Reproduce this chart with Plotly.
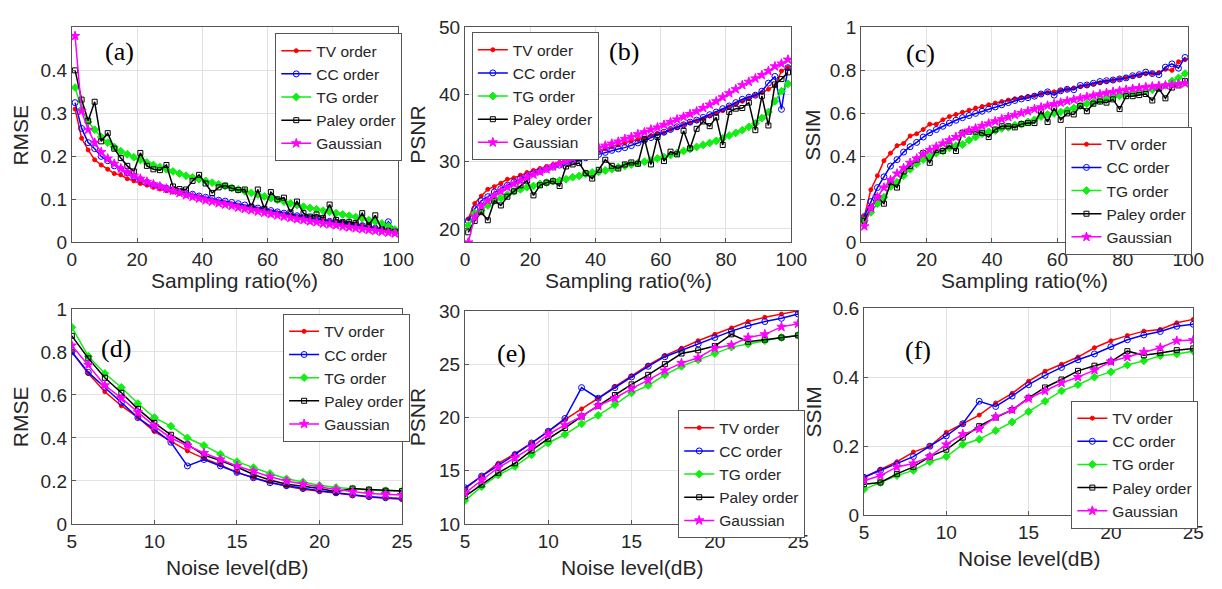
import plotly.graph_objects as go

W, H = 1222, 589

# ---------------- data ----------------
x_ratio = [1, 3, 5, 7, 9, 11, 13, 15, 17, 19, 21, 23, 25, 27, 29, 31, 33, 35, 37, 39,
           41, 43, 45, 47, 49, 51, 53, 55, 57, 59, 61, 63, 65, 67, 69, 71, 73, 75, 77, 79,
           81, 83, 85, 87, 89, 91, 93, 95, 97, 99]
x_noise = [5, 6, 7, 8, 9, 10, 11, 12, 13, 14, 15, 16, 17, 18, 19, 20, 21, 22, 23, 24, 25]

series_names = ["TV order", "CC order", "TG order", "Paley order", "Gaussian"]

# (a) RMSE vs sampling ratio
rmse_a_tv = [0.310, 0.242, 0.215, 0.192, 0.180, 0.170, 0.160, 0.157, 0.148, 0.143,
             0.137, 0.133, 0.128, 0.124, 0.120, 0.117, 0.114, 0.110, 0.106, 0.103,
             0.100, 0.097, 0.094, 0.091, 0.088, 0.085, 0.082, 0.079, 0.076, 0.073,
             0.070, 0.068, 0.066, 0.063, 0.061, 0.058, 0.056, 0.054, 0.052, 0.050,
             0.048, 0.046, 0.044, 0.042, 0.040, 0.037, 0.034, 0.031, 0.028, 0.025]
rmse_a_cc = [0.325, 0.265, 0.232, 0.218, 0.200, 0.190, 0.178, 0.170, 0.162, 0.152,
             0.146, 0.140, 0.134, 0.130, 0.126, 0.122, 0.118, 0.115, 0.112, 0.108,
             0.105, 0.102, 0.098, 0.096, 0.093, 0.090, 0.087, 0.083, 0.080, 0.077,
             0.074, 0.071, 0.068, 0.065, 0.062, 0.059, 0.057, 0.055, 0.052, 0.049,
             0.047, 0.045, 0.043, 0.041, 0.039, 0.036, 0.033, 0.030, 0.048, 0.028]
rmse_a_tg = [0.360, 0.310, 0.280, 0.262, 0.245, 0.232, 0.222, 0.212, 0.205, 0.198,
             0.192, 0.186, 0.180, 0.175, 0.170, 0.165, 0.160, 0.155, 0.151, 0.147,
             0.143, 0.139, 0.135, 0.131, 0.127, 0.123, 0.119, 0.115, 0.111, 0.107,
             0.103, 0.099, 0.095, 0.091, 0.087, 0.083, 0.080, 0.077, 0.074, 0.071,
             0.068, 0.065, 0.062, 0.059, 0.056, 0.052, 0.048, 0.044, 0.038, 0.030]
rmse_a_paley = [0.400, 0.332, 0.283, 0.327, 0.235, 0.254, 0.218, 0.196, 0.178, 0.165,
                0.208, 0.178, 0.170, 0.168, 0.180, 0.130, 0.124, 0.123, 0.143, 0.157,
                0.137, 0.115, 0.128, 0.132, 0.126, 0.122, 0.123, 0.082, 0.123, 0.078,
                0.117, 0.100, 0.104, 0.070, 0.095, 0.068, 0.060, 0.065, 0.057, 0.088,
                0.052, 0.047, 0.047, 0.045, 0.068, 0.040, 0.063, 0.030, 0.027, 0.025]
rmse_a_gauss = [0.480, 0.305, 0.262, 0.232, 0.210, 0.195, 0.183, 0.172, 0.163, 0.155,
                0.148, 0.141, 0.135, 0.130, 0.125, 0.120, 0.115, 0.110, 0.106, 0.102,
                0.098, 0.095, 0.091, 0.088, 0.085, 0.081, 0.078, 0.075, 0.072, 0.069,
                0.066, 0.063, 0.060, 0.057, 0.054, 0.052, 0.049, 0.047, 0.044, 0.042,
                0.040, 0.037, 0.035, 0.033, 0.031, 0.029, 0.027, 0.025, 0.023, 0.021]

# (b) PSNR vs sampling ratio
psnr_b_tv = [21.5, 23.8, 24.9, 25.9, 26.3, 26.8, 27.4, 27.6, 28.0, 28.4,
             28.7, 29.0, 29.3, 29.6, 29.9, 30.1, 30.4, 30.7, 31.0, 31.3,
             31.6, 31.9, 32.2, 32.5, 32.8, 33.1, 33.3, 33.5, 33.9, 34.2,
             34.3, 34.8, 35.1, 35.5, 35.8, 36.1, 36.4, 36.8, 37.2, 37.6,
             38.2, 38.6, 39.0, 39.5, 39.9, 40.3, 40.8, 41.3, 43.5, 44.0]
psnr_b_cc = [21.2, 23.0, 24.2, 24.8, 25.5, 26.0, 26.5, 27.0, 27.5, 27.9,
             28.3, 28.6, 28.9, 29.2, 29.5, 29.8, 30.1, 30.4, 30.6, 30.9,
             31.1, 31.4, 31.7, 31.9, 32.1, 32.4, 32.8, 33.2, 33.6, 34.0,
             34.4, 34.8, 35.2, 35.5, 35.9, 36.2, 36.6, 37.0, 37.4, 37.9,
             38.3, 38.8, 39.3, 39.6, 39.9, 40.5, 41.7, 42.7, 37.8, 44.0]
psnr_b_tg = [20.5, 22.3, 22.8, 23.5, 24.2, 24.6, 25.1, 25.6, 25.9, 26.2,
             26.4, 26.7, 26.9, 27.1, 27.2, 27.4, 27.7, 27.9, 28.2, 28.4,
             28.5, 28.7, 28.9, 29.2, 29.4, 29.6, 29.8, 30.0, 30.2, 30.5,
             30.7, 31.0, 31.3, 31.6, 31.9, 32.2, 32.5, 32.8, 33.1, 33.5,
             33.9, 34.3, 34.7, 35.2, 35.7, 36.5, 37.4, 39.0, 40.5, 41.6]
psnr_b_paley = [19.5, 21.2, 22.5, 21.3, 24.2, 23.5, 24.8, 25.6, 26.5, 27.2,
                25.0, 26.5, 26.9, 27.1, 26.4, 29.3, 29.6, 29.8, 28.3, 27.5,
                28.8, 30.3, 29.4, 29.0, 29.6, 29.9, 29.7, 33.4, 29.6, 33.7,
                30.1, 31.5, 31.1, 34.6, 32.0, 34.9, 36.0, 35.3, 36.6, 32.5,
                37.4, 37.9, 38.0, 38.8, 34.7, 39.8, 35.4, 41.5, 42.3, 43.3]
psnr_b_gauss = [18.0, 21.8, 23.4, 24.2, 25.0, 25.6, 26.2, 26.7, 27.2, 27.7,
                28.1, 28.5, 28.9, 29.3, 29.7, 30.1, 30.5, 30.9, 31.3, 31.7,
                32.1, 32.4, 32.7, 33.0, 33.4, 33.7, 34.1, 34.4, 34.8, 35.1,
                35.5, 35.9, 36.3, 36.7, 37.1, 37.5, 38.0, 38.5, 39.0, 39.6,
                40.2, 40.8, 41.4, 41.9, 42.4, 42.9, 43.5, 44.2, 44.6, 45.2]

# (c) SSIM vs sampling ratio
ssim_c_tv = [0.120, 0.245, 0.310, 0.380, 0.415, 0.450, 0.460, 0.495, 0.505, 0.525,
             0.550, 0.550, 0.570, 0.585, 0.595, 0.605, 0.615, 0.625, 0.632, 0.640,
             0.648, 0.655, 0.662, 0.668, 0.673, 0.678, 0.683, 0.690, 0.697, 0.700,
             0.706, 0.712, 0.718, 0.724, 0.730, 0.736, 0.742, 0.748, 0.754, 0.760,
             0.766, 0.772, 0.778, 0.784, 0.786, 0.790, 0.805, 0.800, 0.840, 0.850]
ssim_c_cc = [0.120, 0.190, 0.255, 0.305, 0.355, 0.385, 0.420, 0.445, 0.465, 0.490,
             0.510, 0.525, 0.540, 0.555, 0.568, 0.580, 0.590, 0.600, 0.610, 0.620,
             0.630, 0.640, 0.650, 0.660, 0.667, 0.673, 0.680, 0.690, 0.700, 0.685,
             0.705, 0.712, 0.710, 0.730, 0.732, 0.740, 0.748, 0.752, 0.755, 0.760,
             0.765, 0.775, 0.780, 0.792, 0.785, 0.780, 0.815, 0.830, 0.810, 0.860]
ssim_c_tg = [0.100, 0.140, 0.180, 0.210, 0.260, 0.280, 0.310, 0.340, 0.365, 0.385,
             0.400, 0.415, 0.425, 0.440, 0.450, 0.455, 0.475, 0.490, 0.505, 0.515,
             0.520, 0.530, 0.535, 0.545, 0.550, 0.560, 0.570, 0.585, 0.595, 0.600,
             0.607, 0.615, 0.625, 0.635, 0.645, 0.652, 0.660, 0.668, 0.675, 0.682,
             0.690, 0.695, 0.700, 0.705, 0.710, 0.720, 0.730, 0.750, 0.765, 0.785]
ssim_c_paley = [0.100, 0.160, 0.210, 0.180, 0.280, 0.255, 0.330, 0.355, 0.385, 0.415,
                0.370, 0.430, 0.425, 0.450, 0.425, 0.510, 0.515, 0.515, 0.510, 0.490,
                0.525, 0.540, 0.540, 0.535, 0.550, 0.555, 0.555, 0.610, 0.560, 0.625,
                0.570, 0.600, 0.595, 0.635, 0.610, 0.645, 0.655, 0.650, 0.665, 0.620,
                0.680, 0.680, 0.685, 0.690, 0.660, 0.715, 0.670, 0.720, 0.730, 0.750]
ssim_c_gauss = [0.075, 0.160, 0.210, 0.255, 0.290, 0.320, 0.345, 0.370, 0.390, 0.410,
                0.430, 0.445, 0.460, 0.475, 0.490, 0.505, 0.520, 0.530, 0.542, 0.553,
                0.563, 0.573, 0.583, 0.593, 0.602, 0.610, 0.620, 0.628, 0.636, 0.643,
                0.650, 0.657, 0.664, 0.670, 0.677, 0.683, 0.689, 0.695, 0.700, 0.705,
                0.710, 0.714, 0.718, 0.722, 0.725, 0.728, 0.730, 0.733, 0.736, 0.740]

# (d) RMSE vs noise level
rmse_d_tv = [0.800, 0.700, 0.615, 0.550, 0.495, 0.430, 0.385, 0.340, 0.305, 0.275, 0.240,
             0.215, 0.195, 0.175, 0.162, 0.152, 0.142, 0.133, 0.125, 0.120, 0.115]
rmse_d_cc = [0.800, 0.705, 0.635, 0.565, 0.495, 0.440, 0.380, 0.270, 0.300, 0.270, 0.240,
             0.215, 0.192, 0.178, 0.165, 0.155, 0.145, 0.135, 0.127, 0.122, 0.118]
rmse_d_tg = [0.915, 0.780, 0.700, 0.635, 0.560, 0.495, 0.455, 0.400, 0.365, 0.325, 0.290,
             0.262, 0.235, 0.210, 0.195, 0.180, 0.170, 0.163, 0.158, 0.155, 0.153]
rmse_d_paley = [0.875, 0.770, 0.680, 0.610, 0.535, 0.470, 0.415, 0.370, 0.320, 0.295, 0.265,
                0.230, 0.205, 0.185, 0.175, 0.165, 0.150, 0.165, 0.160, 0.155, 0.153]
rmse_d_gauss = [0.830, 0.740, 0.645, 0.585, 0.520, 0.455, 0.400, 0.365, 0.330, 0.300, 0.270,
                0.245, 0.220, 0.200, 0.185, 0.172, 0.160, 0.150, 0.142, 0.138, 0.135]

# (e) PSNR vs noise level
psnr_e_tv = [13.3, 14.5, 15.7, 16.6, 17.6, 18.7, 19.8, 20.8, 21.8, 22.9, 23.9,
             24.9, 25.8, 26.5, 27.2, 27.8, 28.4, 29.0, 29.4, 29.7, 30.0]
psnr_e_cc = [13.4, 14.5, 15.5, 16.5, 17.6, 18.7, 19.9, 22.8, 21.8, 22.8, 23.8,
             24.8, 25.7, 26.3, 26.9, 27.5, 28.1, 28.6, 29.0, 29.3, 29.7]
psnr_e_tg = [12.2, 13.5, 14.6, 15.4, 16.5, 17.6, 18.4, 19.4, 20.2, 21.2, 22.3,
             23.0, 24.0, 24.8, 25.4, 26.0, 26.6, 26.9, 27.2, 27.5, 27.7]
psnr_e_paley = [12.6, 13.7, 14.8, 15.7, 16.9, 18.0, 19.0, 20.1, 21.1, 22.1, 23.1,
                24.0, 25.0, 26.0, 26.3, 26.7, 27.8, 27.1, 27.3, 27.5, 27.7]
psnr_e_gauss = [12.9, 14.1, 15.3, 16.2, 17.2, 18.4, 19.3, 20.1, 21.1, 21.8, 22.7,
                23.5, 24.4, 25.1, 25.6, 26.5, 26.8, 27.5, 27.8, 28.5, 28.8]

# (f) SSIM vs noise level
ssim_f_tv = [0.110, 0.133, 0.155, 0.183, 0.200, 0.240, 0.265, 0.290, 0.325, 0.353, 0.388,
             0.417, 0.437, 0.458, 0.485, 0.505, 0.520, 0.533, 0.538, 0.557, 0.567]
ssim_f_cc = [0.110, 0.130, 0.148, 0.170, 0.200, 0.230, 0.265, 0.330, 0.315, 0.345, 0.378,
             0.405, 0.428, 0.450, 0.467, 0.488, 0.508, 0.522, 0.532, 0.547, 0.553]
ssim_f_tg = [0.075, 0.095, 0.115, 0.130, 0.155, 0.170, 0.205, 0.220, 0.245, 0.270, 0.300,
             0.330, 0.360, 0.378, 0.400, 0.415, 0.435, 0.447, 0.462, 0.467, 0.475]
ssim_f_paley = [0.090, 0.095, 0.120, 0.140, 0.170, 0.190, 0.225, 0.258, 0.283, 0.305, 0.340,
                0.370, 0.393, 0.418, 0.433, 0.445, 0.475, 0.463, 0.470, 0.478, 0.483]
ssim_f_gauss = [0.100, 0.115, 0.140, 0.150, 0.170, 0.205, 0.235, 0.250, 0.285, 0.305, 0.338,
                0.360, 0.383, 0.400, 0.420, 0.445, 0.458, 0.473, 0.485, 0.505, 0.507]

# ---------------- styles ----------------
styles = [
    dict(color="#ff0000", symbol="circle", size=4),
    dict(color="#0000ff", symbol="circle-open", size=6),
    dict(color="#11ee11", symbol="diamond", size=6),
    dict(color="#000000", symbol="square-open", size=5),
    dict(color="#ff00ff", symbol="star", size=7),
]

panels = [
    dict(x=x_ratio, ys=[rmse_a_tv, rmse_a_cc, rmse_a_tg, rmse_a_paley, rmse_a_gauss],
         px=(68, 400), py=(18, 241), yr=[0, 0.5], yt=[0, 0.1, 0.2, 0.3, 0.4],
         xr=[0, 100], xt=[0, 20, 40, 60, 80, 100], ylab="RMSE", xlab="Sampling ratio(%)",
         tag="(a)", tagpos=(117, 43), leg=(275, 24), ytitle_x=16, xtitle_y=281),
    dict(x=x_ratio, ys=[psnr_b_tv, psnr_b_cc, psnr_b_tg, psnr_b_paley, psnr_b_gauss],
         px=(468, 800), py=(18, 241), yr=[18, 50], yt=[20, 30, 40, 50],
         xr=[0, 100], xt=[0, 20, 40, 60, 80, 100], ylab="PSNR", xlab="Sampling ratio(%)",
         tag="(b)", tagpos=(630, 43), leg=(475, 23), ytitle_x=420, xtitle_y=281),
    dict(x=x_ratio, ys=[ssim_c_tv, ssim_c_cc, ssim_c_tg, ssim_c_paley, ssim_c_gauss],
         px=(871, 1204), py=(18, 241), yr=[0, 1], yt=[0, 0.2, 0.4, 0.6, 0.8, 1],
         xr=[0, 100], xt=[0, 20, 40, 60, 80, 100], ylab="SSIM", xlab="Sampling ratio(%)",
         tag="(c)", tagpos=(932, 45), leg=(1079, 121), ytitle_x=822, xtitle_y=281),
    dict(x=x_noise, ys=[rmse_d_tv, rmse_d_cc, rmse_d_tg, rmse_d_paley, rmse_d_gauss],
         px=(68, 404), py=(310, 533), yr=[0, 1], yt=[0, 0.2, 0.4, 0.6, 0.8, 1],
         xr=[5, 25], xt=[5, 10, 15, 20, 25], ylab="RMSE", xlab="Noise level(dB)",
         tag="(d)", tagpos=(113, 351), leg=(283, 315), ytitle_x=16, xtitle_y=578),
    dict(x=x_noise, ys=[psnr_e_tv, psnr_e_cc, psnr_e_tg, psnr_e_paley, psnr_e_gauss],
         px=(468, 807), py=(312, 533), yr=[10, 30], yt=[10, 15, 20, 25, 30],
         xr=[5, 25], xt=[5, 10, 15, 20, 25], ylab="PSNR", xlab="Noise level(dB)",
         tag="(e)", tagpos=(515, 356), leg=(685, 415), ytitle_x=420, xtitle_y=578),
    dict(x=x_noise, ys=[ssim_f_tv, ssim_f_cc, ssim_f_tg, ssim_f_paley, ssim_f_gauss],
         px=(874, 1209), py=(309, 524), yr=[0, 0.6], yt=[0, 0.2, 0.4, 0.6],
         xr=[5, 25], xt=[5, 10, 15, 20, 25], ylab="SSIM", xlab="Noise level(dB)",
         tag="(f)", tagpos=(929, 353), leg=(1085, 405), ytitle_x=823, xtitle_y=569),
]

TXT = "#262626"
FONT = "Liberation Sans, Arial, sans-serif"

fig = go.Figure()
layout = dict(width=W, height=H, margin=dict(l=0, r=0, t=0, b=0),
              paper_bgcolor="white", plot_bgcolor="white", showlegend=True,
              font=dict(family=FONT, color=TXT))
annotations = []

for i, p in enumerate(panels):
    n = "" if i == 0 else str(i + 1)
    legname = "legend" + n
    for s, (name, yv) in enumerate(zip(series_names, p["ys"])):
        st = styles[s]
        fig.add_trace(go.Scatter(
            x=p["x"], y=yv, name=name, mode="lines+markers",
            xaxis="x" + n, yaxis="y" + n, legend=legname,
            line=dict(color=st["color"], width=1.5),
            marker=dict(symbol=st["symbol"], size=st["size"], color=st["color"],
                        line=dict(color=st["color"], width=1)),
        ))
    axcommon = dict(showline=True, linecolor="#555555", linewidth=1, mirror=True,
                    showgrid=True, gridcolor="#e2e2e2", gridwidth=1,
                    ticks="inside", ticklen=4, tickcolor="#555555", zeroline=False,
                    tickfont=dict(family=FONT, size=19, color=TXT))
    layout["xaxis" + n] = dict(axcommon, domain=[p["px"][0] / W, p["px"][1] / W],
                               range=p["xr"], tickvals=p["xt"], anchor="y" + n)
    layout["yaxis" + n] = dict(axcommon, domain=[1 - p["py"][1] / H, 1 - p["py"][0] / H],
                               range=p["yr"], tickvals=p["yt"], anchor="x" + n)
    layout[legname] = dict(x=p["leg"][0] / W, y=1 - p["leg"][1] / H,
                           xanchor="left", yanchor="top", bgcolor="white",
                           bordercolor="#555555", borderwidth=1, itemwidth=30,
                           tracegroupgap=0,
                           font=dict(family=FONT, size=15.5, color=TXT))
    common_ann = dict(xref="paper", yref="paper", showarrow=False,
                      xanchor="center", yanchor="middle")
    # y title
    annotations.append(dict(common_ann, text=p["ylab"],
                            x=p["ytitle_x"] / W,
                            y=1 - (p["py"][0] + p["py"][1]) / 2 / H,
                            textangle=-90,
                            font=dict(family=FONT, size=21, color=TXT)))
    # x title
    annotations.append(dict(common_ann, text=p["xlab"],
                            x=(p["px"][0] + p["px"][1]) / 2 / W,
                            y=1 - p["xtitle_y"] / H,
                            font=dict(family=FONT, size=21, color=TXT)))
    # panel tag
    annotations.append(dict(common_ann, text=p["tag"],
                            x=p["tagpos"][0] / W, y=1 - p["tagpos"][1] / H,
                            font=dict(family="Liberation Serif, Times New Roman, serif",
                                      size=26, color="#000000")))

layout["annotations"] = annotations
fig.update_layout(**layout)
fig.write_html("out.html")
